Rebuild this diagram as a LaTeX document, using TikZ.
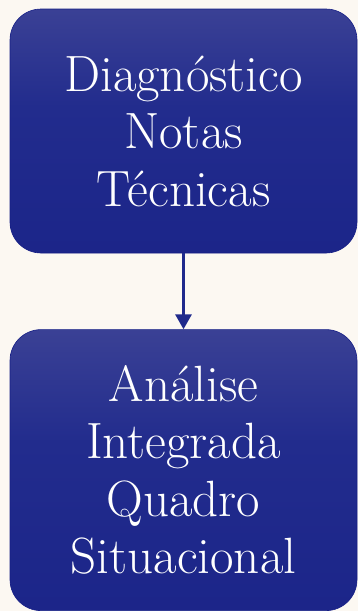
\documentclass[tikz,border=0pt]{standalone}
\usepackage{tikz}
\usetikzlibrary{arrows.meta,positioning}

\definecolor{bgcream}{HTML}{FCF8F2}
\definecolor{boxtop}{HTML}{4A4E9A}
\definecolor{boxmid}{HTML}{222C8D}
\definecolor{boxbot}{HTML}{161F86}
\definecolor{arrowblue}{HTML}{1F2A8C}

\pgfdeclareverticalshading{stagefade}{100bp}{
    color(0bp)=(boxbot); color(55bp)=(boxmid); color(88bp)=(boxtop); color(100bp)=(boxtop)}

\tikzset{
    stagebox/.style={rectangle, rounded corners=31pt, draw=boxbot, line width=0.6pt,
        shading=stagefade, text=white, align=center, minimum width=347pt,
        font=\fontsize{51}{57.5}\selectfont}
}

\begin{document}
\begin{tikzpicture}[x=1pt,y=1pt]

    % background
    \fill[bgcream] (0,0) rectangle (358,-611);
    \useasboundingbox (0,0) rectangle (358,-611);

    % diagnosis
    \node[stagebox, minimum height=244pt] (diag) at (183.5,-131)
        {Diagnóstico\\Notas\\Técnicas};

    % integrated analysis
    \node[stagebox, minimum height=281pt, below=76pt of diag] (anal)
        {Análise\\Integrada\\Quadro\\Situacional};

    \draw[-{Triangle[width=16pt,length=15pt]}, arrowblue, line width=3pt] (diag) to (anal);

\end{tikzpicture}
\end{document}
